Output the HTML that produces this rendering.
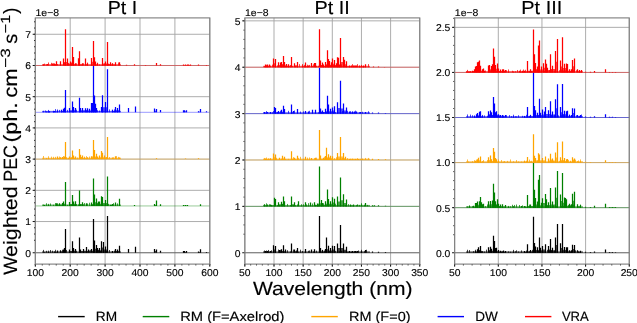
<!DOCTYPE html><html><head><meta charset="utf-8"><style>html,body{margin:0;padding:0;background:#fff;}svg{display:block;will-change:transform;}text{text-rendering:geometricPrecision;font-family:"Liberation Sans",sans-serif;fill:#000;stroke:#000;stroke-width:0.15px;}</style></head><body>
<svg width="637" height="323" viewBox="0 0 637 323">
<rect width="637" height="323" fill="#fff"/>
<path d="M35.30 17.90V264.10M70.20 17.90V264.10M105.10 17.90V264.10M140.00 17.90V264.10M174.90 17.90V264.10M209.80 17.90V264.10M35.30 252.75H209.80M35.30 221.54H209.80M35.30 190.33H209.80M35.30 159.12H209.80M35.30 127.91H209.80M35.30 96.70H209.80M35.30 65.49H209.80M35.30 34.28H209.80" stroke="#a4a4a4" stroke-width="0.9" fill="none"/>
<path d="M35.30 252.75H209.80" stroke="#000000" stroke-width="0.8" stroke-opacity="0.5" fill="none"/>
<path d="M44.50 252.75V252.20M48.50 252.75V251.90M54.50 252.75V251.60M57.50 252.75V250.40M60.50 252.75V250.40M63.50 252.75V249.40M64.50 252.75V247.90M65.50 252.75V229.00M69.50 252.75V249.40M72.50 252.75V241.20M73.50 252.75V247.90M75.50 252.75V248.90M79.50 252.75V237.50M80.50 252.75V249.40M83.50 252.75V248.90M86.50 252.75V247.10M88.50 252.75V249.40M91.50 252.75V248.90M93.50 252.75V218.90M94.50 252.75V240.50M96.50 252.75V244.90M97.50 252.75V247.90M99.50 252.75V247.90M101.50 252.75V241.20M103.50 252.75V242.00M105.50 252.75V246.40M107.50 252.75V215.90M112.50 252.75V250.90M115.50 252.75V248.90M117.50 252.75V249.40M119.50 252.75V245.70M128.50 252.75V248.90M135.50 252.75V246.80M154.50 252.75V249.00M156.50 252.75V249.50M160.50 252.75V250.70M183.50 252.75V251.00M184.50 252.75V251.00M186.50 252.75V251.00M198.50 252.75V251.50M200.50 252.75V249.30M206.50 252.75V252.00" stroke="#000000" stroke-width="1.25" fill="none"/>
<rect x="42.00" y="251.35" width="79.00" height="1.40" fill="#000000" fill-opacity="0.6"/>
<path d="M43.50 252.75V249.89M46.50 252.75V250.82M48.50 252.75V250.63M50.50 252.75V250.03M52.50 252.75V250.70M55.50 252.75V249.75M57.50 252.75V251.13M60.50 252.75V250.39M62.50 252.75V249.75M66.50 252.75V249.97M69.50 252.75V251.07M72.50 252.75V249.77M75.50 252.75V250.71M76.50 252.75V250.79M79.50 252.75V249.74M83.50 252.75V250.70M86.50 252.75V251.18M89.50 252.75V250.54M90.50 252.75V250.17M93.50 252.75V249.94M96.50 252.75V251.75M98.50 252.75V249.84M100.50 252.75V251.03M103.50 252.75V251.33M106.50 252.75V251.23M109.50 252.75V249.98M112.50 252.75V251.57M114.50 252.75V250.63M117.50 252.75V251.51" stroke="#000000" stroke-width="1" stroke-opacity="0.75" fill="none"/>
<path d="M54.90 252.75L54.90 252.18L57.10 252.18L57.10 252.75ZM60.80 252.75L60.80 251.57L63.00 251.57L63.00 252.75ZM63.00 252.75L63.00 251.07L64.50 251.07L64.50 252.75ZM64.50 252.75L64.50 250.32L65.70 250.32L65.70 252.75ZM69.70 252.75L69.70 251.07L72.40 251.07L72.40 252.75ZM72.40 252.75L72.40 250.32L73.90 250.32L73.90 252.75ZM73.90 252.75L73.90 250.82L75.70 250.82L75.70 252.75ZM79.70 252.75L79.70 251.07L80.40 251.07L80.40 252.75ZM80.40 252.75L80.40 251.07L83.10 251.07L83.10 252.75ZM83.10 252.75L83.10 250.82L86.10 250.82L86.10 252.75ZM86.10 252.75L86.10 251.07L88.30 251.07L88.30 252.75ZM91.90 252.75L91.90 250.82L93.45 250.82L93.45 252.75ZM93.45 252.75L93.45 246.62L94.90 246.62L94.90 252.75ZM94.90 252.75L94.90 248.82L96.00 248.82L96.00 252.75ZM96.00 252.75L96.00 250.32L97.90 250.32L97.90 252.75ZM97.90 252.75L97.90 250.32L99.20 250.32L99.20 252.75ZM99.20 252.75L99.20 250.32L101.60 250.32L101.60 252.75ZM101.60 252.75L101.60 247.38L103.10 247.38L103.10 252.75ZM103.10 252.75L103.10 249.57L105.60 249.57L105.60 252.75ZM105.60 252.75L105.60 249.57L107.50 249.57L107.50 252.75ZM115.60 252.75L115.60 251.07L117.50 251.07L117.50 252.75ZM117.50 252.75L117.50 251.07L119.40 251.07L119.40 252.75ZM154.60 252.75L154.60 251.12L156.30 251.12L156.30 252.75ZM183.00 252.75L183.00 251.88L184.50 251.88L184.50 252.75ZM184.50 252.75L184.50 251.88L186.50 251.88L186.50 252.75ZM198.10 252.75L198.10 252.12L200.60 252.12L200.60 252.75Z" fill="#000000" fill-opacity="0.70" stroke="none"/>
<path d="M35.30 205.94H209.80" stroke="#008000" stroke-width="0.8" stroke-opacity="0.5" fill="none"/>
<path d="M44.50 205.94V205.10M48.50 205.94V204.70M56.50 205.94V203.30M59.50 205.94V203.30M62.50 205.94V202.90M63.50 205.94V201.50M65.50 205.94V182.00M69.50 205.94V201.90M72.50 205.94V195.00M73.50 205.94V201.50M75.50 205.94V201.20M79.50 205.94V190.50M82.50 205.94V202.30M86.50 205.94V203.30M91.50 205.94V202.60M93.50 205.94V178.60M94.50 205.94V194.50M96.50 205.94V198.40M98.50 205.94V201.50M99.50 205.94V201.50M101.50 205.94V196.30M102.50 205.94V197.00M105.50 205.94V200.10M107.50 205.94V176.40M110.50 205.94V204.70M112.50 205.94V204.00M115.50 205.94V202.60M119.50 205.94V198.80M134.50 205.94V205.10M154.50 205.94V204.00M156.50 205.94V200.60M160.50 205.94V204.30M183.50 205.94V205.00M185.50 205.94V205.00M187.50 205.94V205.00M200.50 205.94V204.30" stroke="#008000" stroke-width="1.25" fill="none"/>
<rect x="42.00" y="204.53" width="79.00" height="1.40" fill="#008000" fill-opacity="0.6"/>
<path d="M43.50 205.94V204.64M46.50 205.94V203.25M48.50 205.94V203.85M50.50 205.94V203.50M53.50 205.94V204.73M55.50 205.94V203.10M57.50 205.94V203.26M59.50 205.94V203.96M62.50 205.94V204.43M65.50 205.94V202.95M67.50 205.94V204.88M69.50 205.94V202.87M71.50 205.94V204.46M74.50 205.94V204.87M76.50 205.94V203.97M78.50 205.94V204.42M80.50 205.94V204.45M83.50 205.94V204.30M84.50 205.94V203.09M87.50 205.94V203.52M89.50 205.94V202.75M92.50 205.94V204.67M94.50 205.94V203.35M97.50 205.94V202.87M99.50 205.94V203.11M102.50 205.94V204.27M105.50 205.94V202.99M108.50 205.94V203.82M111.50 205.94V204.86M113.50 205.94V203.18M115.50 205.94V204.55M117.50 205.94V203.39" stroke="#008000" stroke-width="1" stroke-opacity="0.75" fill="none"/>
<path d="M56.70 205.94L56.70 204.62L59.50 204.62L59.50 205.94ZM59.50 205.94L59.50 204.62L62.30 204.62L62.30 205.94ZM62.30 205.94L62.30 204.42L63.70 204.42L63.70 205.94ZM63.70 205.94L63.70 203.72L65.50 203.72L65.50 205.94ZM69.90 205.94L69.90 203.92L72.50 203.92L72.50 205.94ZM72.50 205.94L72.50 203.72L73.70 203.72L73.70 205.94ZM73.70 205.94L73.70 203.72L75.50 203.72L75.50 205.94ZM79.70 205.94L79.70 204.12L82.50 204.12L82.50 205.94ZM91.50 205.94L91.50 204.27L93.40 204.27L93.40 205.94ZM93.40 205.94L93.40 200.22L94.75 200.22L94.75 205.94ZM94.75 205.94L94.75 202.17L96.35 202.17L96.35 205.94ZM96.35 205.94L96.35 203.72L98.50 203.72L98.50 205.94ZM98.50 205.94L98.50 203.72L99.50 203.72L99.50 205.94ZM99.50 205.94L99.50 203.72L101.40 203.72L101.40 205.94ZM101.40 205.94L101.40 201.47L102.80 201.47L102.80 205.94ZM102.80 205.94L102.80 203.02L105.30 203.02L105.30 205.94ZM105.30 205.94L105.30 203.02L107.50 203.02L107.50 205.94ZM110.90 205.94L110.90 205.32L112.60 205.32L112.60 205.94ZM154.60 205.94L154.60 204.97L156.60 204.97L156.60 205.94ZM183.00 205.94L183.00 205.47L185.00 205.47L185.00 205.94ZM185.00 205.94L185.00 205.47L187.00 205.47L187.00 205.94Z" fill="#008000" fill-opacity="0.70" stroke="none"/>
<path d="M35.30 159.12H209.80" stroke="#ffa500" stroke-width="0.8" stroke-opacity="0.5" fill="none"/>
<path d="M48.50 159.12V158.30M53.50 159.12V158.30M57.50 159.12V156.50M60.50 159.12V157.30M62.50 159.12V156.90M64.50 159.12V156.50M65.50 159.12V142.00M69.50 159.12V156.50M72.50 159.12V150.40M73.50 159.12V155.50M75.50 159.12V156.50M79.50 159.12V149.00M80.50 159.12V154.80M82.50 159.12V155.50M84.50 159.12V157.30M87.50 159.12V157.30M91.50 159.12V156.20M93.50 159.12V139.90M94.50 159.12V150.00M96.50 159.12V153.80M97.50 159.12V156.50M99.50 159.12V155.50M101.50 159.12V150.90M102.50 159.12V152.70M104.50 159.12V155.50M107.50 159.12V137.00M112.50 159.12V157.60M115.50 159.12V156.20M119.50 159.12V157.60M156.50 159.12V158.20M185.50 159.12V158.50M198.50 159.12V158.30" stroke="#ffa500" stroke-width="1.25" fill="none"/>
<rect x="42.00" y="157.72" width="79.00" height="1.40" fill="#ffa500" fill-opacity="0.6"/>
<path d="M43.50 159.12V156.02M46.50 159.12V158.00M48.50 159.12V156.28M51.50 159.12V156.65M53.50 159.12V156.79M55.50 159.12V156.84M57.50 159.12V157.17M59.50 159.12V156.53M63.50 159.12V156.03M66.50 159.12V157.14M68.50 159.12V158.04M69.50 159.12V157.10M71.50 159.12V157.28M75.50 159.12V156.96M77.50 159.12V157.60M79.50 159.12V157.40M81.50 159.12V157.00M84.50 159.12V156.64M86.50 159.12V156.15M89.50 159.12V156.50M92.50 159.12V156.44M95.50 159.12V157.34M99.50 159.12V156.00M101.50 159.12V156.46M104.50 159.12V157.10M106.50 159.12V157.04M109.50 159.12V157.02M113.50 159.12V157.34M116.50 159.12V156.14M118.50 159.12V156.87" stroke="#ffa500" stroke-width="1" stroke-opacity="0.75" fill="none"/>
<path d="M57.40 159.12L57.40 158.21L60.20 158.21L60.20 159.12ZM60.20 159.12L60.20 158.21L62.30 158.21L62.30 159.12ZM62.30 159.12L62.30 158.01L64.00 158.01L64.00 159.12ZM64.00 159.12L64.00 157.81L65.50 157.81L65.50 159.12ZM69.90 159.12L69.90 157.81L72.50 157.81L72.50 159.12ZM72.50 159.12L72.50 157.31L73.40 157.31L73.40 159.12ZM73.40 159.12L73.40 157.81L75.50 157.81L75.50 159.12ZM79.70 159.12L79.70 156.96L80.40 156.96L80.40 159.12ZM80.40 159.12L80.40 157.31L82.50 157.31L82.50 159.12ZM82.50 159.12L82.50 158.21L84.60 158.21L84.60 159.12ZM84.60 159.12L84.60 158.21L87.40 158.21L87.40 159.12ZM91.30 159.12L91.30 157.66L93.40 157.66L93.40 159.12ZM93.40 159.12L93.40 154.56L94.80 154.56L94.80 159.12ZM94.80 159.12L94.80 156.46L96.40 156.46L96.40 159.12ZM96.40 159.12L96.40 157.81L97.80 157.81L97.80 159.12ZM97.80 159.12L97.80 157.81L99.50 157.81L99.50 159.12ZM99.50 159.12L99.50 157.31L101.40 157.31L101.40 159.12ZM101.40 159.12L101.40 155.91L102.80 155.91L102.80 159.12ZM102.80 159.12L102.80 157.31L104.60 157.31L104.60 159.12ZM104.60 159.12L104.60 157.31L107.50 157.31L107.50 159.12Z" fill="#ffa500" fill-opacity="0.70" stroke="none"/>
<path d="M35.30 112.31H209.80" stroke="#0000ff" stroke-width="0.8" stroke-opacity="0.5" fill="none"/>
<path d="M46.50 112.31V111.40M48.50 112.31V111.40M49.50 112.31V111.40M53.50 112.31V111.00M54.50 112.31V111.00M57.50 112.31V110.60M61.50 112.31V109.70M63.50 112.31V108.80M64.50 112.31V107.70M65.50 112.31V90.10M69.50 112.31V108.00M72.50 112.31V101.50M73.50 112.31V107.10M75.50 112.31V108.00M79.50 112.31V97.80M80.50 112.31V108.00M82.50 112.31V108.00M85.50 112.31V108.30M87.50 112.31V108.30M89.50 112.31V108.80M91.50 112.31V102.90M92.50 112.31V102.90M93.50 112.31V65.40M94.50 112.31V95.50M95.50 112.31V103.70M96.50 112.31V108.00M101.50 112.31V107.10M102.50 112.31V95.20M105.50 112.31V102.00M107.50 112.31V69.20M112.50 112.31V109.70M115.50 112.31V107.10M117.50 112.31V108.00M119.50 112.31V104.60M128.50 112.31V108.00M135.50 112.31V106.60M154.50 112.31V108.40M156.50 112.31V109.00M160.50 112.31V110.00M183.50 112.31V110.30M184.50 112.31V110.30M186.50 112.31V110.30M198.50 112.31V111.30M200.50 112.31V109.00M206.50 112.31V111.30" stroke="#0000ff" stroke-width="1.25" fill="none"/>
<rect x="42.00" y="110.91" width="79.00" height="1.40" fill="#0000ff" fill-opacity="0.6"/>
<path d="M43.50 112.31V110.78M45.50 112.31V110.49M48.50 112.31V109.93M49.50 112.31V111.28M53.50 112.31V110.73M55.50 112.31V109.11M57.50 112.31V109.46M59.50 112.31V109.90M61.50 112.31V109.91M65.50 112.31V110.15M67.50 112.31V109.83M69.50 112.31V109.64M72.50 112.31V110.64M73.50 112.31V109.40M76.50 112.31V109.72M79.50 112.31V109.73M82.50 112.31V110.44M86.50 112.31V110.33M89.50 112.31V109.37M91.50 112.31V111.01M93.50 112.31V109.18M95.50 112.31V109.93M97.50 112.31V110.19M99.50 112.31V110.53M102.50 112.31V110.02M105.50 112.31V109.80M109.50 112.31V109.42M112.50 112.31V109.83M114.50 112.31V109.41M117.50 112.31V109.31" stroke="#0000ff" stroke-width="1" stroke-opacity="0.75" fill="none"/>
<path d="M46.00 112.31L46.00 111.85L48.00 111.85L48.00 112.31ZM48.00 112.31L48.00 111.85L49.60 111.85L49.60 112.31ZM53.00 112.31L53.00 111.65L54.70 111.65L54.70 112.31ZM54.70 112.31L54.70 111.65L57.30 111.65L57.30 112.31ZM61.60 112.31L61.60 111.00L63.30 111.00L63.30 112.31ZM63.30 112.31L63.30 110.55L64.60 110.55L64.60 112.31ZM64.60 112.31L64.60 110.00L65.80 110.00L65.80 112.31ZM69.70 112.31L69.70 110.15L72.30 110.15L72.30 112.31ZM72.30 112.31L72.30 109.70L73.80 109.70L73.80 112.31ZM73.80 112.31L73.80 110.15L75.50 110.15L75.50 112.31ZM79.60 112.31L79.60 110.15L80.60 110.15L80.60 112.31ZM80.60 112.31L80.60 110.15L82.80 110.15L82.80 112.31ZM82.80 112.31L82.80 110.30L85.40 110.30L85.40 112.31ZM85.40 112.31L85.40 110.30L87.10 110.30L87.10 112.31ZM87.10 112.31L87.10 110.55L89.40 110.55L89.40 112.31ZM89.40 112.31L89.40 110.55L91.90 110.55L91.90 112.31ZM91.90 112.31L91.90 107.60L92.30 107.60L92.30 112.31ZM92.30 112.31L92.30 107.60L93.45 107.60L93.45 112.31ZM93.45 112.31L93.45 103.90L94.80 103.90L94.80 112.31ZM94.80 112.31L94.80 108.00L95.70 108.00L95.70 112.31ZM95.70 112.31L95.70 110.15L96.90 110.15L96.90 112.31ZM101.60 112.31L101.60 109.70L102.70 109.70L102.70 112.31ZM102.70 112.31L102.70 107.15L105.00 107.15L105.00 112.31ZM105.00 112.31L105.00 107.15L107.30 107.15L107.30 112.31ZM112.70 112.31L112.70 111.00L115.30 111.00L115.30 112.31ZM115.30 112.31L115.30 110.15L117.80 110.15L117.80 112.31ZM117.80 112.31L117.80 110.15L119.50 110.15L119.50 112.31ZM154.60 112.31L154.60 110.65L156.30 110.65L156.30 112.31ZM183.00 112.31L183.00 111.30L184.50 111.30L184.50 112.31ZM184.50 112.31L184.50 111.30L186.50 111.30L186.50 112.31ZM198.10 112.31L198.10 111.80L200.60 111.80L200.60 112.31Z" fill="#0000ff" fill-opacity="0.70" stroke="none"/>
<path d="M35.30 65.49H209.80" stroke="#ff0000" stroke-width="0.8" stroke-opacity="0.5" fill="none"/>
<path d="M43.50 65.49V65.00M47.50 65.49V64.10M52.50 65.49V63.60M54.50 65.49V63.60M56.50 65.49V61.30M60.50 65.49V61.30M63.50 65.49V58.40M65.50 65.49V58.00M65.50 65.49V29.20M67.50 65.49V58.40M70.50 65.49V61.60M72.50 65.49V47.00M73.50 65.49V57.00M75.50 65.49V63.20M78.50 65.49V58.20M79.50 65.49V51.20M82.50 65.49V63.20M85.50 65.49V58.40M87.50 65.49V63.20M91.50 65.49V58.10M93.50 65.49V41.00M94.50 65.49V57.30M95.50 65.49V61.50M97.50 65.49V63.30M102.50 65.49V57.90M105.50 65.49V61.50M107.50 65.49V42.00M110.50 65.49V62.30M112.50 65.49V63.30M115.50 65.49V62.30M119.50 65.49V62.30M126.50 65.49V64.70M134.50 65.49V64.30M145.50 65.49V65.00M156.50 65.49V63.10M160.50 65.49V64.30M183.50 65.49V64.50M185.50 65.49V64.50M187.50 65.49V64.50M188.50 65.49V64.50M190.50 65.49V64.60M198.50 65.49V64.60M206.50 65.49V65.00" stroke="#ff0000" stroke-width="1.25" fill="none"/>
<rect x="42.00" y="64.09" width="79.00" height="1.40" fill="#ff0000" fill-opacity="0.6"/>
<path d="M43.50 65.49V63.97M44.50 65.49V63.62M46.50 65.49V64.34M48.50 65.49V62.47M51.50 65.49V62.81M53.50 65.49V63.31M55.50 65.49V64.11M57.50 65.49V64.02M60.50 65.49V62.67M64.50 65.49V62.73M65.50 65.49V63.81M68.50 65.49V62.88M71.50 65.49V62.55M73.50 65.49V63.16M76.50 65.49V63.38M78.50 65.49V63.45M79.50 65.49V62.43M83.50 65.49V63.29M85.50 65.49V62.49M87.50 65.49V62.55M91.50 65.49V63.37M93.50 65.49V63.17M95.50 65.49V64.14M97.50 65.49V62.70M99.50 65.49V64.39M102.50 65.49V63.87M104.50 65.49V63.45M107.50 65.49V62.30M108.50 65.49V63.58M110.50 65.49V63.10M112.50 65.49V63.71M115.50 65.49V63.78M118.50 65.49V62.50" stroke="#ff0000" stroke-width="1" stroke-opacity="0.75" fill="none"/>
<path d="M52.70 65.49L52.70 64.55L54.80 64.55L54.80 65.49ZM54.80 65.49L54.80 64.55L56.20 64.55L56.20 65.49ZM63.80 65.49L63.80 61.95L65.00 61.95L65.00 65.49ZM65.00 65.49L65.00 61.75L65.50 61.75L65.50 65.49ZM65.50 65.49L65.50 61.95L67.00 61.95L67.00 65.49ZM67.00 65.49L67.00 63.55L70.10 63.55L70.10 65.49ZM70.10 65.49L70.10 63.55L72.50 63.55L72.50 65.49ZM72.50 65.49L72.50 61.25L73.60 61.25L73.60 65.49ZM73.60 65.49L73.60 64.34L75.70 64.34L75.70 65.49ZM78.90 65.49L78.90 61.85L79.60 61.85L79.60 65.49ZM79.60 65.49L79.60 64.34L82.70 64.34L82.70 65.49ZM85.90 65.49L85.90 64.34L87.80 64.34L87.80 65.49ZM91.20 65.49L91.20 61.80L93.40 61.80L93.40 65.49ZM93.40 65.49L93.40 61.40L94.90 61.40L94.90 65.49ZM94.90 65.49L94.90 63.50L95.80 63.50L95.80 65.49ZM95.80 65.49L95.80 64.40L97.00 64.40L97.00 65.49ZM102.80 65.49L102.80 63.50L105.30 63.50L105.30 65.49ZM105.30 65.49L105.30 63.50L107.50 63.50L107.50 65.49ZM107.50 65.49L107.50 63.90L110.60 63.90L110.60 65.49ZM110.60 65.49L110.60 64.40L112.70 64.40L112.70 65.49ZM112.70 65.49L112.70 64.40L115.80 64.40L115.80 65.49ZM183.00 65.49L183.00 65.00L185.00 65.00L185.00 65.49ZM185.00 65.49L185.00 65.00L187.00 65.00L187.00 65.49ZM187.00 65.49L187.00 65.00L188.70 65.00L188.70 65.49ZM188.70 65.49L188.70 65.05L190.60 65.05L190.60 65.49Z" fill="#ff0000" fill-opacity="0.70" stroke="none"/>
<path d="M35.30 264.10v2.6M70.20 264.10v2.6M105.10 264.10v2.6M140.00 264.10v2.6M174.90 264.10v2.6M209.80 264.10v2.6M35.30 264.10v1.3M42.28 264.10v1.3M49.26 264.10v1.3M56.24 264.10v1.3M63.22 264.10v1.3M70.20 264.10v1.3M77.18 264.10v1.3M84.16 264.10v1.3M91.14 264.10v1.3M98.12 264.10v1.3M105.10 264.10v1.3M112.08 264.10v1.3M119.06 264.10v1.3M126.04 264.10v1.3M133.02 264.10v1.3M140.00 264.10v1.3M146.98 264.10v1.3M153.96 264.10v1.3M160.94 264.10v1.3M167.92 264.10v1.3M174.90 264.10v1.3M181.88 264.10v1.3M188.86 264.10v1.3M195.84 264.10v1.3M202.82 264.10v1.3M209.80 264.10v1.3M35.30 240.27h-1.3M35.30 234.02h-1.3M35.30 227.78h-1.3M35.30 221.54h-1.3M35.30 215.30h-1.3M35.30 209.06h-1.3M35.30 202.81h-1.3M35.30 196.57h-1.3M35.30 190.33h-1.3M35.30 184.09h-1.3M35.30 177.85h-1.3M35.30 171.60h-1.3M35.30 165.36h-1.3M35.30 159.12h-1.3M35.30 152.88h-1.3M35.30 146.64h-1.3M35.30 140.39h-1.3M35.30 134.15h-1.3M35.30 127.91h-1.3M35.30 121.67h-1.3M35.30 115.43h-1.3M35.30 109.18h-1.3M35.30 102.94h-1.3M35.30 96.70h-1.3M35.30 90.46h-1.3M35.30 84.22h-1.3M35.30 77.97h-1.3M35.30 71.73h-1.3M35.30 65.49h-1.3M35.30 59.25h-1.3M35.30 53.01h-1.3M35.30 46.76h-1.3M35.30 40.52h-1.3M35.30 34.28h-1.3M35.30 28.04h-1.3M35.30 21.80h-1.3M35.30 252.75h-2.6M35.30 221.54h-2.6M35.30 190.33h-2.6M35.30 159.12h-2.6M35.30 127.91h-2.6M35.30 96.70h-2.6M35.30 65.49h-2.6M35.30 34.28h-2.6" stroke="#111" stroke-width="1.0" fill="none"/>
<rect x="35.30" y="17.90" width="174.50" height="246.20" fill="none" stroke="#7d7d7d" stroke-width="1.1"/>
<text x="35.30" y="276.4" font-size="9.90" style="stroke-width:0.12px" text-anchor="middle" textLength="17.25" lengthAdjust="spacingAndGlyphs">100</text>
<text x="70.20" y="276.4" font-size="9.90" style="stroke-width:0.12px" text-anchor="middle" textLength="17.25" lengthAdjust="spacingAndGlyphs">200</text>
<text x="105.10" y="276.4" font-size="9.90" style="stroke-width:0.12px" text-anchor="middle" textLength="17.25" lengthAdjust="spacingAndGlyphs">300</text>
<text x="140.00" y="276.4" font-size="9.90" style="stroke-width:0.12px" text-anchor="middle" textLength="17.25" lengthAdjust="spacingAndGlyphs">400</text>
<text x="174.90" y="276.4" font-size="9.90" style="stroke-width:0.12px" text-anchor="middle" textLength="17.25" lengthAdjust="spacingAndGlyphs">500</text>
<text x="209.80" y="276.4" font-size="9.90" style="stroke-width:0.12px" text-anchor="middle" textLength="17.25" lengthAdjust="spacingAndGlyphs">600</text>
<text x="31.00" y="256.65" font-size="9.90" style="stroke-width:0.12px" text-anchor="end" textLength="5.75" lengthAdjust="spacingAndGlyphs">0</text>
<text x="31.00" y="225.44" font-size="9.90" style="stroke-width:0.12px" text-anchor="end" textLength="5.75" lengthAdjust="spacingAndGlyphs">1</text>
<text x="31.00" y="194.23" font-size="9.90" style="stroke-width:0.12px" text-anchor="end" textLength="5.75" lengthAdjust="spacingAndGlyphs">2</text>
<text x="31.00" y="163.02" font-size="9.90" style="stroke-width:0.12px" text-anchor="end" textLength="5.75" lengthAdjust="spacingAndGlyphs">3</text>
<text x="31.00" y="131.81" font-size="9.90" style="stroke-width:0.12px" text-anchor="end" textLength="5.75" lengthAdjust="spacingAndGlyphs">4</text>
<text x="31.00" y="100.60" font-size="9.90" style="stroke-width:0.12px" text-anchor="end" textLength="5.75" lengthAdjust="spacingAndGlyphs">5</text>
<text x="31.00" y="69.39" font-size="9.90" style="stroke-width:0.12px" text-anchor="end" textLength="5.75" lengthAdjust="spacingAndGlyphs">6</text>
<text x="31.00" y="38.18" font-size="9.90" style="stroke-width:0.12px" text-anchor="end" textLength="5.75" lengthAdjust="spacingAndGlyphs">7</text>
<text x="35.50" y="15.5" font-size="9.90" style="stroke-width:0.12px" textLength="23.6" lengthAdjust="spacingAndGlyphs">1e−8</text>
<text x="122.50" y="13.7" font-size="18.9" text-anchor="middle" textLength="29.40" lengthAdjust="spacingAndGlyphs">Pt I</text>
<path d="M244.85 17.90V264.10M274.00 17.90V264.10M303.15 17.90V264.10M332.30 17.90V264.10M361.45 17.90V264.10M390.60 17.90V264.10M419.75 17.90V264.10M244.85 252.75H419.75M244.85 206.37H419.75M244.85 159.99H419.75M244.85 113.61H419.75M244.85 67.23H419.75M244.85 20.85H419.75" stroke="#a4a4a4" stroke-width="0.9" fill="none"/>
<path d="M244.85 252.75H419.75" stroke="#000000" stroke-width="0.8" stroke-opacity="0.5" fill="none"/>
<path d="M265.50 252.75V250.90M267.50 252.75V250.90M270.50 252.75V250.90M273.50 252.75V245.20M275.50 252.75V246.00M279.50 252.75V250.10M281.50 252.75V249.30M283.50 252.75V245.20M285.50 252.75V249.60M291.50 252.75V243.50M294.50 252.75V249.60M297.50 252.75V248.00M305.50 252.75V248.90M311.50 252.75V249.60M314.50 252.75V249.30M319.50 252.75V216.10M320.50 252.75V248.00M322.50 252.75V250.10M325.50 252.75V248.90M326.50 252.75V237.50M328.50 252.75V245.70M330.50 252.75V248.00M332.50 252.75V245.70M334.50 252.75V246.00M337.50 252.75V243.50M340.50 252.75V225.00M343.50 252.75V243.50M346.50 252.75V246.80M349.50 252.75V250.90M352.50 252.75V250.90M355.50 252.75V250.90M357.50 252.75V250.90M361.50 252.75V251.20M365.50 252.75V250.10M372.50 252.75V251.55M378.50 252.75V251.75M385.50 252.75V252.05" stroke="#000000" stroke-width="1.25" fill="none"/>
<rect x="263.00" y="251.35" width="107.00" height="1.40" fill="#000000" fill-opacity="0.6"/>
<path d="M264.50 252.75V250.49M266.50 252.75V250.48M268.50 252.75V249.96M271.50 252.75V250.31M273.50 252.75V250.60M275.50 252.75V251.20M278.50 252.75V249.56M280.50 252.75V249.86M283.50 252.75V250.91M285.50 252.75V250.27M287.50 252.75V250.24M290.50 252.75V251.46M293.50 252.75V249.59M296.50 252.75V250.40M298.50 252.75V251.74M300.50 252.75V249.68M302.50 252.75V250.94M305.50 252.75V251.06M308.50 252.75V250.79M309.50 252.75V250.46M313.50 252.75V251.41M314.50 252.75V250.84M316.50 252.75V250.66M319.50 252.75V250.30M322.50 252.75V249.87M324.50 252.75V250.50M326.50 252.75V250.43M328.50 252.75V250.04M329.50 252.75V251.38M332.50 252.75V249.67M335.50 252.75V250.84M337.50 252.75V251.15M339.50 252.75V251.36M341.50 252.75V250.75M343.50 252.75V250.32M346.50 252.75V250.04M349.50 252.75V250.99M351.50 252.75V251.74M354.50 252.75V251.02M356.50 252.75V251.57M358.50 252.75V250.47M361.50 252.75V249.84M364.50 252.75V251.22M366.50 252.75V249.75" stroke="#000000" stroke-width="1" stroke-opacity="0.75" fill="none"/>
<path d="M265.30 252.75L265.30 251.82L267.70 251.82L267.70 252.75ZM267.70 252.75L267.70 251.82L270.20 251.82L270.20 252.75ZM273.80 252.75L273.80 249.38L275.10 249.38L275.10 252.75ZM279.20 252.75L279.20 251.43L281.70 251.43L281.70 252.75ZM281.70 252.75L281.70 251.03L283.30 251.03L283.30 252.75ZM283.30 252.75L283.30 251.18L285.00 251.18L285.00 252.75ZM294.80 252.75L294.80 251.18L297.70 251.18L297.70 252.75ZM319.25 252.75L319.25 250.38L320.80 250.38L320.80 252.75ZM320.80 252.75L320.80 251.43L322.40 251.43L322.40 252.75ZM322.40 252.75L322.40 251.43L325.20 251.43L325.20 252.75ZM325.20 252.75L325.20 250.82L326.80 250.82L326.80 252.75ZM326.80 252.75L326.80 249.22L328.40 249.22L328.40 252.75ZM328.40 252.75L328.40 250.38L330.10 250.38L330.10 252.75ZM330.10 252.75L330.10 250.38L332.20 250.38L332.20 252.75ZM332.20 252.75L332.20 249.38L334.30 249.38L334.30 252.75ZM337.60 252.75L337.60 248.12L340.70 248.12L340.70 252.75ZM340.70 252.75L340.70 248.12L343.70 248.12L343.70 252.75ZM343.70 252.75L343.70 249.78L346.50 249.78L346.50 252.75ZM346.50 252.75L346.50 251.82L349.40 251.82L349.40 252.75ZM349.40 252.75L349.40 251.82L352.00 251.82L352.00 252.75ZM352.00 252.75L352.00 251.82L355.00 251.82L355.00 252.75ZM355.00 252.75L355.00 251.82L357.60 251.82L357.60 252.75Z" fill="#000000" fill-opacity="0.70" stroke="none"/>
<path d="M244.85 206.37H419.75" stroke="#008000" stroke-width="0.8" stroke-opacity="0.5" fill="none"/>
<path d="M264.50 206.37V204.40M267.50 206.37V204.40M270.50 206.37V204.40M274.50 206.37V197.70M275.50 206.37V199.10M278.50 206.37V202.30M281.50 206.37V201.70M283.50 206.37V196.40M284.50 206.37V201.20M291.50 206.37V196.40M294.50 206.37V202.30M298.50 206.37V201.20M305.50 206.37V202.30M310.50 206.37V202.60M314.50 206.37V202.30M317.50 206.37V203.50M319.50 206.37V166.50M321.50 206.37V200.00M322.50 206.37V203.00M325.50 206.37V201.20M327.50 206.37V189.40M328.50 206.37V199.10M330.50 206.37V201.20M332.50 206.37V197.30M334.50 206.37V198.70M337.50 206.37V196.40M340.50 206.37V177.60M343.50 206.37V194.20M346.50 206.37V199.40M350.50 206.37V204.40M353.50 206.37V204.40M357.50 206.37V204.40M361.50 206.37V204.40M365.50 206.37V203.00M374.50 206.37V205.30M372.50 206.37V205.17M378.50 206.37V205.37M385.50 206.37V205.67" stroke="#008000" stroke-width="1.25" fill="none"/>
<rect x="263.00" y="204.97" width="107.00" height="1.40" fill="#008000" fill-opacity="0.6"/>
<path d="M264.50 206.37V204.37M266.50 206.37V203.34M269.50 206.37V204.25M271.50 206.37V204.96M274.50 206.37V203.98M277.50 206.37V205.16M279.50 206.37V205.17M282.50 206.37V203.84M284.50 206.37V203.21M287.50 206.37V203.93M290.50 206.37V205.02M291.50 206.37V204.21M293.50 206.37V204.95M295.50 206.37V205.30M297.50 206.37V204.40M301.50 206.37V204.23M303.50 206.37V204.27M306.50 206.37V204.36M308.50 206.37V203.18M312.50 206.37V203.52M315.50 206.37V204.68M317.50 206.37V204.73M318.50 206.37V203.68M321.50 206.37V203.51M323.50 206.37V203.26M326.50 206.37V205.37M328.50 206.37V203.37M330.50 206.37V203.21M333.50 206.37V205.21M335.50 206.37V203.66M337.50 206.37V205.18M340.50 206.37V203.25M343.50 206.37V205.11M345.50 206.37V205.15M346.50 206.37V203.62M348.50 206.37V204.14M350.50 206.37V204.95M353.50 206.37V205.08M356.50 206.37V205.11M359.50 206.37V204.90M361.50 206.37V203.23M364.50 206.37V204.70M367.50 206.37V204.91" stroke="#008000" stroke-width="1" stroke-opacity="0.75" fill="none"/>
<path d="M264.60 206.37L264.60 205.38L267.50 205.38L267.50 206.37ZM270.80 206.37L270.80 205.38L274.00 205.38L274.00 206.37ZM274.00 206.37L274.00 202.74L275.20 202.74L275.20 206.37ZM278.80 206.37L278.80 204.34L281.00 204.34L281.00 206.37ZM281.00 206.37L281.00 204.03L283.20 204.03L283.20 206.37ZM283.20 206.37L283.20 203.78L284.90 203.78L284.90 206.37ZM291.50 206.37L291.50 204.34L294.60 204.34L294.60 206.37ZM314.90 206.37L314.90 204.94L317.60 204.94L317.60 206.37ZM317.60 206.37L317.60 204.94L319.20 204.94L319.20 206.37ZM319.20 206.37L319.20 203.19L321.10 203.19L321.10 206.37ZM321.10 206.37L321.10 204.69L322.90 204.69L322.90 206.37ZM322.90 206.37L322.90 204.69L325.90 204.69L325.90 206.37ZM325.90 206.37L325.90 203.78L327.00 203.78L327.00 206.37ZM327.00 206.37L327.00 202.74L328.80 202.74L328.80 206.37ZM328.80 206.37L328.80 203.78L330.50 203.78L330.50 206.37ZM330.50 206.37L330.50 203.78L332.60 203.78L332.60 206.37ZM332.60 206.37L332.60 202.53L334.40 202.53L334.40 206.37ZM337.90 206.37L337.90 201.38L340.90 201.38L340.90 206.37ZM340.90 206.37L340.90 200.28L343.70 200.28L343.70 206.37ZM343.70 206.37L343.70 202.88L346.70 202.88L346.70 206.37ZM350.30 206.37L350.30 205.38L353.50 205.38L353.50 206.37ZM372.70 206.37L372.70 205.84L374.10 205.84L374.10 206.37Z" fill="#008000" fill-opacity="0.70" stroke="none"/>
<path d="M244.85 159.99H419.75" stroke="#ffa500" stroke-width="0.8" stroke-opacity="0.5" fill="none"/>
<path d="M265.50 159.99V158.60M268.50 159.99V158.60M270.50 159.99V158.60M273.50 159.99V153.40M275.50 159.99V154.60M279.50 159.99V157.70M282.50 159.99V155.70M284.50 159.99V156.80M291.50 159.99V151.20M294.50 159.99V157.70M297.50 159.99V155.70M305.50 159.99V156.80M311.50 159.99V158.00M315.50 159.99V157.70M319.50 159.99V130.10M320.50 159.99V155.50M323.50 159.99V157.70M325.50 159.99V156.00M326.50 159.99V147.80M328.50 159.99V154.30M330.50 159.99V155.70M332.50 159.99V156.30M337.50 159.99V152.90M340.50 159.99V136.90M343.50 159.99V152.90M345.50 159.99V156.80M349.50 159.99V159.00M352.50 159.99V159.00M355.50 159.99V159.00M358.50 159.99V159.00M362.50 159.99V159.00M372.50 159.99V158.79M378.50 159.99V158.99M385.50 159.99V159.29" stroke="#ffa500" stroke-width="1.25" fill="none"/>
<rect x="263.00" y="158.59" width="107.00" height="1.40" fill="#ffa500" fill-opacity="0.6"/>
<path d="M264.50 159.99V157.95M266.50 159.99V157.52M268.50 159.99V158.97M270.50 159.99V158.39M273.50 159.99V157.47M276.50 159.99V157.76M279.50 159.99V158.67M281.50 159.99V158.63M285.50 159.99V158.86M288.50 159.99V158.83M291.50 159.99V158.25M293.50 159.99V157.14M295.50 159.99V158.86M298.50 159.99V157.87M300.50 159.99V156.82M303.50 159.99V158.74M305.50 159.99V158.69M307.50 159.99V157.62M309.50 159.99V157.46M311.50 159.99V158.61M314.50 159.99V158.11M316.50 159.99V157.68M319.50 159.99V158.14M320.50 159.99V157.39M324.50 159.99V156.84M327.50 159.99V158.21M329.50 159.99V157.47M332.50 159.99V158.74M334.50 159.99V158.19M336.50 159.99V157.21M339.50 159.99V158.93M342.50 159.99V158.04M344.50 159.99V158.50M347.50 159.99V158.14M350.50 159.99V158.76M352.50 159.99V158.60M355.50 159.99V158.91M357.50 159.99V158.23M360.50 159.99V158.88M362.50 159.99V158.53M365.50 159.99V157.94M368.50 159.99V157.93" stroke="#ffa500" stroke-width="1" stroke-opacity="0.75" fill="none"/>
<path d="M265.40 159.99L265.40 159.30L268.00 159.30L268.00 159.99ZM268.00 159.99L268.00 159.30L270.50 159.30L270.50 159.99ZM273.90 159.99L273.90 157.30L275.30 157.30L275.30 159.99ZM282.40 159.99L282.40 158.40L284.10 158.40L284.10 159.99ZM291.30 159.99L291.30 158.84L294.40 158.84L294.40 159.99ZM319.20 159.99L319.20 157.75L320.90 157.75L320.90 159.99ZM320.90 159.99L320.90 158.84L323.50 158.84L323.50 159.99ZM323.50 159.99L323.50 158.84L325.60 158.84L325.60 159.99ZM325.60 159.99L325.60 158.00L326.90 158.00L326.90 159.99ZM326.90 159.99L326.90 157.15L328.30 157.15L328.30 159.99ZM328.30 159.99L328.30 157.84L330.30 157.84L330.30 159.99ZM330.30 159.99L330.30 158.15L332.90 158.15L332.90 159.99ZM337.70 159.99L337.70 156.44L340.60 156.44L340.60 159.99ZM340.60 159.99L340.60 156.44L343.60 156.44L343.60 159.99ZM343.60 159.99L343.60 158.40L345.70 158.40L345.70 159.99ZM349.00 159.99L349.00 159.50L352.00 159.50L352.00 159.99ZM352.00 159.99L352.00 159.50L355.00 159.50L355.00 159.99ZM355.00 159.99L355.00 159.50L358.00 159.50L358.00 159.99Z" fill="#ffa500" fill-opacity="0.70" stroke="none"/>
<path d="M244.85 113.61H419.75" stroke="#0000ff" stroke-width="0.8" stroke-opacity="0.5" fill="none"/>
<path d="M264.50 113.61V111.90M267.50 113.61V111.90M270.50 113.61V111.90M274.50 113.61V107.00M275.50 113.61V107.90M278.50 113.61V110.90M281.50 113.61V109.70M283.50 113.61V105.70M284.50 113.61V109.10M291.50 113.61V104.50M293.50 113.61V110.90M297.50 113.61V109.10M305.50 113.61V110.90M308.50 113.61V111.40M312.50 113.61V109.70M315.50 113.61V109.70M319.50 113.61V68.00M320.50 113.61V108.40M322.50 113.61V110.50M325.50 113.61V108.80M327.50 113.61V95.80M328.50 113.61V104.50M330.50 113.61V108.80M332.50 113.61V107.40M334.50 113.61V106.20M337.50 113.61V102.20M340.50 113.61V80.70M343.50 113.61V103.60M346.50 113.61V107.40M349.50 113.61V111.40M352.50 113.61V111.40M354.50 113.61V111.40M356.50 113.61V111.40M360.50 113.61V111.90M365.50 113.61V111.90M372.50 113.61V112.41M378.50 113.61V112.61M385.50 113.61V112.91" stroke="#0000ff" stroke-width="1.25" fill="none"/>
<rect x="263.00" y="112.21" width="107.00" height="1.40" fill="#0000ff" fill-opacity="0.6"/>
<path d="M264.50 113.61V112.04M266.50 113.61V111.11M270.50 113.61V112.20M272.50 113.61V112.29M273.50 113.61V111.00M275.50 113.61V111.44M277.50 113.61V111.96M280.50 113.61V110.77M282.50 113.61V112.58M284.50 113.61V112.29M288.50 113.61V110.83M291.50 113.61V110.79M294.50 113.61V110.52M297.50 113.61V112.05M300.50 113.61V111.54M303.50 113.61V111.37M305.50 113.61V111.81M308.50 113.61V111.92M309.50 113.61V110.81M312.50 113.61V110.44M315.50 113.61V111.39M318.50 113.61V112.31M321.50 113.61V111.63M323.50 113.61V112.16M326.50 113.61V112.05M328.50 113.61V111.28M330.50 113.61V112.32M333.50 113.61V112.09M335.50 113.61V112.18M337.50 113.61V112.45M340.50 113.61V110.51M342.50 113.61V111.03M345.50 113.61V112.51M347.50 113.61V110.84M350.50 113.61V111.20M352.50 113.61V111.70M355.50 113.61V110.66M359.50 113.61V112.16M362.50 113.61V111.79M365.50 113.61V112.31M368.50 113.61V111.28" stroke="#0000ff" stroke-width="1" stroke-opacity="0.75" fill="none"/>
<path d="M264.60 113.61L264.60 112.75L267.00 112.75L267.00 113.61ZM274.10 113.61L274.10 110.75L275.50 110.75L275.50 113.61ZM275.50 113.61L275.50 112.25L278.50 112.25L278.50 113.61ZM278.50 113.61L278.50 112.25L281.00 112.25L281.00 113.61ZM281.00 113.61L281.00 111.66L283.10 111.66L283.10 113.61ZM283.10 113.61L283.10 111.35L284.50 111.35L284.50 113.61ZM291.10 113.61L291.10 112.25L293.20 112.25L293.20 113.61ZM319.25 113.61L319.25 111.00L320.70 111.00L320.70 113.61ZM320.70 113.61L320.70 112.05L322.80 112.05L322.80 113.61ZM322.80 113.61L322.80 112.05L325.70 112.05L325.70 113.61ZM325.70 113.61L325.70 111.20L327.10 111.20L327.10 113.61ZM327.10 113.61L327.10 109.05L328.50 109.05L328.50 113.61ZM328.50 113.61L328.50 111.20L330.60 111.20L330.60 113.61ZM330.60 113.61L330.60 111.20L332.30 111.20L332.30 113.61ZM332.30 113.61L332.30 110.50L334.10 110.50L334.10 113.61ZM337.50 113.61L337.50 107.91L340.60 107.91L340.60 113.61ZM340.60 113.61L340.60 108.60L343.60 108.60L343.60 113.61ZM343.60 113.61L343.60 110.50L346.20 110.50L346.20 113.61ZM349.70 113.61L349.70 112.50L352.00 112.50L352.00 113.61ZM352.00 113.61L352.00 112.50L354.50 112.50L354.50 113.61ZM354.50 113.61L354.50 112.50L356.60 112.50L356.60 113.61Z" fill="#0000ff" fill-opacity="0.70" stroke="none"/>
<path d="M244.85 67.23H419.75" stroke="#ff0000" stroke-width="0.8" stroke-opacity="0.5" fill="none"/>
<path d="M265.50 67.23V64.50M267.50 67.23V64.50M269.50 67.23V64.50M273.50 67.23V58.40M275.50 67.23V59.10M278.50 67.23V62.30M280.50 67.23V62.60M281.50 67.23V61.90M283.50 67.23V55.90M284.50 67.23V61.90M286.50 67.23V64.00M288.50 67.23V64.20M291.50 67.23V57.00M294.50 67.23V63.30M297.50 67.23V61.90M302.50 67.23V65.40M305.50 67.23V62.60M308.50 67.23V65.40M311.50 67.23V62.90M314.50 67.23V62.90M315.50 67.23V62.90M319.50 67.23V29.20M320.50 67.23V60.50M322.50 67.23V62.60M323.50 67.23V64.70M325.50 67.23V61.90M327.50 67.23V50.30M328.50 67.23V59.10M329.50 67.23V60.90M331.50 67.23V62.30M332.50 67.23V58.40M334.50 67.23V60.10M336.50 67.23V63.30M337.50 67.23V57.30M338.50 67.23V57.70M339.50 67.23V64.50M340.50 67.23V38.00M343.50 67.23V57.00M344.50 67.23V59.80M346.50 67.23V61.20M349.50 67.23V65.40M351.50 67.23V65.40M353.50 67.23V65.40M355.50 67.23V65.40M356.50 67.23V65.40M359.50 67.23V65.70M361.50 67.23V65.70M363.50 67.23V65.70M365.50 67.23V64.30M373.50 67.23V66.50M378.50 67.23V66.50M384.50 67.23V67.00" stroke="#ff0000" stroke-width="1.25" fill="none"/>
<rect x="263.00" y="65.83" width="107.00" height="1.40" fill="#ff0000" fill-opacity="0.6"/>
<path d="M264.50 67.23V65.99M266.50 67.23V64.80M270.50 67.23V65.63M272.50 67.23V64.62M275.50 67.23V65.56M277.50 67.23V65.36M281.50 67.23V65.97M282.50 67.23V64.25M285.50 67.23V65.66M288.50 67.23V64.84M290.50 67.23V65.02M292.50 67.23V65.87M295.50 67.23V65.96M297.50 67.23V66.05M299.50 67.23V64.08M302.50 67.23V64.05M304.50 67.23V64.89M307.50 67.23V64.72M309.50 67.23V64.93M312.50 67.23V65.83M313.50 67.23V64.31M316.50 67.23V65.80M318.50 67.23V65.75M321.50 67.23V65.13M323.50 67.23V64.43M325.50 67.23V65.61M326.50 67.23V64.60M328.50 67.23V65.07M330.50 67.23V65.17M333.50 67.23V65.05M335.50 67.23V65.16M337.50 67.23V64.92M339.50 67.23V65.19M341.50 67.23V64.33M345.50 67.23V66.08M346.50 67.23V64.68M349.50 67.23V66.19M352.50 67.23V64.15M354.50 67.23V65.47M357.50 67.23V64.16M359.50 67.23V65.56M361.50 67.23V64.85M363.50 67.23V65.67M365.50 67.23V66.15M368.50 67.23V64.07" stroke="#ff0000" stroke-width="1" stroke-opacity="0.75" fill="none"/>
<path d="M265.00 67.23L265.00 65.86L267.00 65.86L267.00 67.23ZM267.00 67.23L267.00 65.86L269.00 65.86L269.00 67.23ZM273.80 67.23L273.80 63.16L275.20 63.16L275.20 67.23ZM278.70 67.23L278.70 64.91L280.10 64.91L280.10 67.23ZM280.10 67.23L280.10 64.91L281.50 64.91L281.50 67.23ZM281.50 67.23L281.50 64.56L283.30 64.56L283.30 67.23ZM283.30 67.23L283.30 64.56L284.60 64.56L284.60 67.23ZM284.60 67.23L284.60 65.61L286.40 65.61L286.40 67.23ZM286.40 67.23L286.40 65.72L288.50 65.72L288.50 67.23ZM288.50 67.23L288.50 65.72L291.20 65.72L291.20 67.23ZM294.70 67.23L294.70 65.26L297.90 65.26L297.90 67.23ZM302.40 67.23L302.40 66.31L305.20 66.31L305.20 67.23ZM305.20 67.23L305.20 66.31L308.00 66.31L308.00 67.23ZM314.90 67.23L314.90 65.06L315.70 65.06L315.70 67.23ZM319.30 67.23L319.30 63.86L320.50 63.86L320.50 67.23ZM320.50 67.23L320.50 64.91L322.00 64.91L322.00 67.23ZM322.00 67.23L322.00 65.97L323.60 65.97L323.60 67.23ZM323.60 67.23L323.60 65.97L325.90 65.97L325.90 67.23ZM325.90 67.23L325.90 64.56L327.10 64.56L327.10 67.23ZM327.10 67.23L327.10 63.16L328.20 63.16L328.20 67.23ZM328.20 67.23L328.20 64.06L329.60 64.06L329.60 67.23ZM329.60 67.23L329.60 64.76L331.00 64.76L331.00 67.23ZM331.00 67.23L331.00 64.76L332.00 64.76L332.00 67.23ZM332.00 67.23L332.00 63.66L334.50 63.66L334.50 67.23ZM334.50 67.23L334.50 65.26L336.60 65.26L336.60 67.23ZM336.60 67.23L336.60 65.26L337.60 65.26L337.60 67.23ZM337.60 67.23L337.60 62.46L338.40 62.46L338.40 67.23ZM338.40 67.23L338.40 65.86L339.40 65.86L339.40 67.23ZM339.40 67.23L339.40 65.86L340.50 65.86L340.50 67.23ZM340.50 67.23L340.50 62.11L343.60 62.11L343.60 67.23ZM343.60 67.23L343.60 63.51L344.50 63.51L344.50 67.23ZM344.50 67.23L344.50 64.22L346.80 64.22L346.80 67.23ZM346.80 67.23L346.80 66.31L349.00 66.31L349.00 67.23ZM349.00 67.23L349.00 66.31L351.00 66.31L351.00 67.23ZM351.00 67.23L351.00 66.31L353.00 66.31L353.00 67.23ZM353.00 67.23L353.00 66.31L355.00 66.31L355.00 67.23ZM355.00 67.23L355.00 66.31L356.80 66.31L356.80 67.23ZM356.80 67.23L356.80 66.47L359.60 66.47L359.60 67.23ZM359.60 67.23L359.60 66.47L361.50 66.47L361.50 67.23ZM361.50 67.23L361.50 66.47L363.70 66.47L363.70 67.23ZM363.70 67.23L363.70 66.47L365.50 66.47L365.50 67.23Z" fill="#ff0000" fill-opacity="0.70" stroke="none"/>
<path d="M244.85 264.10v2.6M274.00 264.10v2.6M303.15 264.10v2.6M332.30 264.10v2.6M361.45 264.10v2.6M390.60 264.10v2.6M419.75 264.10v2.6M244.85 264.10v1.3M250.68 264.10v1.3M256.51 264.10v1.3M262.34 264.10v1.3M268.17 264.10v1.3M274.00 264.10v1.3M279.83 264.10v1.3M285.66 264.10v1.3M291.49 264.10v1.3M297.32 264.10v1.3M303.15 264.10v1.3M308.98 264.10v1.3M314.81 264.10v1.3M320.64 264.10v1.3M326.47 264.10v1.3M332.30 264.10v1.3M338.13 264.10v1.3M343.96 264.10v1.3M349.79 264.10v1.3M355.62 264.10v1.3M361.45 264.10v1.3M367.28 264.10v1.3M373.11 264.10v1.3M378.94 264.10v1.3M384.77 264.10v1.3M390.60 264.10v1.3M396.43 264.10v1.3M402.26 264.10v1.3M408.09 264.10v1.3M413.92 264.10v1.3M419.75 264.10v1.3M244.85 234.20h-1.3M244.85 224.92h-1.3M244.85 215.65h-1.3M244.85 206.37h-1.3M244.85 197.09h-1.3M244.85 187.82h-1.3M244.85 178.54h-1.3M244.85 169.27h-1.3M244.85 159.99h-1.3M244.85 150.71h-1.3M244.85 141.44h-1.3M244.85 132.16h-1.3M244.85 122.89h-1.3M244.85 113.61h-1.3M244.85 104.33h-1.3M244.85 95.06h-1.3M244.85 85.78h-1.3M244.85 76.51h-1.3M244.85 67.23h-1.3M244.85 57.95h-1.3M244.85 48.68h-1.3M244.85 39.40h-1.3M244.85 30.13h-1.3M244.85 20.85h-1.3M244.85 252.75h-2.6M244.85 206.37h-2.6M244.85 159.99h-2.6M244.85 113.61h-2.6M244.85 67.23h-2.6M244.85 20.85h-2.6" stroke="#111" stroke-width="1.0" fill="none"/>
<rect x="244.85" y="17.90" width="174.90" height="246.20" fill="none" stroke="#7d7d7d" stroke-width="1.1"/>
<text x="244.85" y="276.4" font-size="9.90" style="stroke-width:0.12px" text-anchor="middle" textLength="11.50" lengthAdjust="spacingAndGlyphs">50</text>
<text x="274.00" y="276.4" font-size="9.90" style="stroke-width:0.12px" text-anchor="middle" textLength="17.25" lengthAdjust="spacingAndGlyphs">100</text>
<text x="303.15" y="276.4" font-size="9.90" style="stroke-width:0.12px" text-anchor="middle" textLength="17.25" lengthAdjust="spacingAndGlyphs">150</text>
<text x="332.30" y="276.4" font-size="9.90" style="stroke-width:0.12px" text-anchor="middle" textLength="17.25" lengthAdjust="spacingAndGlyphs">200</text>
<text x="361.45" y="276.4" font-size="9.90" style="stroke-width:0.12px" text-anchor="middle" textLength="17.25" lengthAdjust="spacingAndGlyphs">250</text>
<text x="390.60" y="276.4" font-size="9.90" style="stroke-width:0.12px" text-anchor="middle" textLength="17.25" lengthAdjust="spacingAndGlyphs">300</text>
<text x="419.75" y="276.4" font-size="9.90" style="stroke-width:0.12px" text-anchor="middle" textLength="17.25" lengthAdjust="spacingAndGlyphs">350</text>
<text x="240.55" y="256.65" font-size="9.90" style="stroke-width:0.12px" text-anchor="end" textLength="5.75" lengthAdjust="spacingAndGlyphs">0</text>
<text x="240.55" y="210.27" font-size="9.90" style="stroke-width:0.12px" text-anchor="end" textLength="5.75" lengthAdjust="spacingAndGlyphs">1</text>
<text x="240.55" y="163.89" font-size="9.90" style="stroke-width:0.12px" text-anchor="end" textLength="5.75" lengthAdjust="spacingAndGlyphs">2</text>
<text x="240.55" y="117.51" font-size="9.90" style="stroke-width:0.12px" text-anchor="end" textLength="5.75" lengthAdjust="spacingAndGlyphs">3</text>
<text x="240.55" y="71.13" font-size="9.90" style="stroke-width:0.12px" text-anchor="end" textLength="5.75" lengthAdjust="spacingAndGlyphs">4</text>
<text x="240.55" y="24.75" font-size="9.90" style="stroke-width:0.12px" text-anchor="end" textLength="5.75" lengthAdjust="spacingAndGlyphs">5</text>
<text x="245.05" y="15.5" font-size="9.90" style="stroke-width:0.12px" textLength="23.6" lengthAdjust="spacingAndGlyphs">1e−8</text>
<text x="332.10" y="13.7" font-size="18.9" text-anchor="middle" textLength="35.20" lengthAdjust="spacingAndGlyphs">Pt II</text>
<path d="M454.65 17.90V264.10M498.30 17.90V264.10M541.95 17.90V264.10M585.60 17.90V264.10M629.25 17.90V264.10M454.65 252.75H629.25M454.65 207.67H629.25M454.65 162.59H629.25M454.65 117.51H629.25M454.65 72.43H629.25M454.65 27.35H629.25" stroke="#a4a4a4" stroke-width="0.9" fill="none"/>
<path d="M454.65 252.75H629.25" stroke="#000000" stroke-width="0.8" stroke-opacity="0.5" fill="none"/>
<path d="M475.50 252.75V250.70M477.50 252.75V249.20M478.50 252.75V247.30M480.50 252.75V245.90M482.50 252.75V251.30M488.50 252.75V247.30M490.50 252.75V246.80M491.50 252.75V248.80M493.50 252.75V235.80M494.50 252.75V241.00M495.50 252.75V247.90M496.50 252.75V247.70M498.50 252.75V249.90M500.50 252.75V250.70M503.50 252.75V250.40M505.50 252.75V251.00M513.50 252.75V251.80M524.50 252.75V251.10M527.50 252.75V244.20M530.50 252.75V250.00M533.50 252.75V216.80M534.50 252.75V242.90M535.50 252.75V246.40M537.50 252.75V247.30M539.50 252.75V237.40M540.50 252.75V247.70M542.50 252.75V246.10M545.50 252.75V244.20M548.50 252.75V246.10M550.50 252.75V239.00M552.50 252.75V247.70M555.50 252.75V237.40M557.50 252.75V224.00M560.50 252.75V243.20M562.50 252.75V224.00M564.50 252.75V246.90M566.50 252.75V247.30M567.50 252.75V247.30M569.50 252.75V250.30M571.50 252.75V250.30M572.50 252.75V244.70M574.50 252.75V245.10M577.50 252.75V250.30M580.50 252.75V250.70M594.50 252.75V251.40M605.50 252.75V249.50M585.50 252.75V251.85M590.50 252.75V252.05M609.50 252.75V252.05M612.50 252.75V252.05M615.50 252.75V252.15" stroke="#000000" stroke-width="1.25" fill="none"/>
<rect x="466.00" y="251.35" width="117.00" height="1.40" fill="#000000" fill-opacity="0.6"/>
<path d="M467.50 252.75V249.76M469.50 252.75V250.06M473.50 252.75V251.18M475.50 252.75V249.76M479.50 252.75V250.49M481.50 252.75V250.84M484.50 252.75V251.52M486.50 252.75V249.66M489.50 252.75V251.29M491.50 252.75V249.75M493.50 252.75V250.81M496.50 252.75V249.98M498.50 252.75V251.57M501.50 252.75V251.67M502.50 252.75V251.33M505.50 252.75V251.13M508.50 252.75V251.39M510.50 252.75V251.70M513.50 252.75V249.86M515.50 252.75V251.23M516.50 252.75V250.33M518.50 252.75V251.45M521.50 252.75V250.43M524.50 252.75V251.41M526.50 252.75V250.53M529.50 252.75V251.39M532.50 252.75V249.85M535.50 252.75V249.56M538.50 252.75V250.99M539.50 252.75V250.41M542.50 252.75V250.79M545.50 252.75V249.90M547.50 252.75V249.80M549.50 252.75V250.32M551.50 252.75V250.14M554.50 252.75V250.58M557.50 252.75V251.63M560.50 252.75V251.49M562.50 252.75V251.02M564.50 252.75V250.11M566.50 252.75V251.18M567.50 252.75V250.29M570.50 252.75V251.65M571.50 252.75V251.27M574.50 252.75V251.72M575.50 252.75V250.28M578.50 252.75V251.45M580.50 252.75V251.47" stroke="#000000" stroke-width="1" stroke-opacity="0.75" fill="none"/>
<path d="M475.40 252.75L475.40 251.72L477.10 251.72L477.10 252.75ZM477.10 252.75L477.10 250.97L478.70 250.97L478.70 252.75ZM478.70 252.75L478.70 250.03L480.10 250.03L480.10 252.75ZM480.10 252.75L480.10 252.03L482.10 252.03L482.10 252.75ZM488.80 252.75L488.80 250.03L490.50 250.03L490.50 252.75ZM490.50 252.75L490.50 250.78L491.90 250.78L491.90 252.75ZM491.90 252.75L491.90 250.78L493.30 250.78L493.30 252.75ZM493.30 252.75L493.30 246.88L494.40 246.88L494.40 252.75ZM494.40 252.75L494.40 250.32L495.50 250.32L495.50 252.75ZM495.50 252.75L495.50 250.32L496.80 250.32L496.80 252.75ZM496.80 252.75L496.80 251.32L498.60 251.32L498.60 252.75ZM498.60 252.75L498.60 251.72L500.50 251.72L500.50 252.75ZM500.50 252.75L500.50 251.72L503.30 251.72L503.30 252.75ZM503.30 252.75L503.30 251.88L505.00 251.88L505.00 252.75ZM524.50 252.75L524.50 251.93L527.60 251.93L527.60 252.75ZM527.60 252.75L527.60 251.38L530.80 251.38L530.80 252.75ZM530.80 252.75L530.80 251.38L533.20 251.38L533.20 252.75ZM533.20 252.75L533.20 247.82L534.30 247.82L534.30 252.75ZM534.30 252.75L534.30 249.57L535.90 249.57L535.90 252.75ZM535.90 252.75L535.90 250.03L537.10 250.03L537.10 252.75ZM537.10 252.75L537.10 250.03L539.00 250.03L539.00 252.75ZM539.00 252.75L539.00 250.22L540.30 250.22L540.30 252.75ZM540.30 252.75L540.30 250.22L542.60 250.22L542.60 252.75ZM542.60 252.75L542.60 249.43L545.30 249.43L545.30 252.75ZM548.50 252.75L548.50 249.43L550.10 249.43L550.10 252.75ZM550.10 252.75L550.10 250.22L552.60 250.22L552.60 252.75ZM552.60 252.75L552.60 250.22L555.30 250.22L555.30 252.75ZM555.30 252.75L555.30 245.07L557.30 245.07L557.30 252.75ZM560.80 252.75L560.80 247.97L562.90 247.97L562.90 252.75ZM562.90 252.75L562.90 249.82L564.80 249.82L564.80 252.75ZM564.80 252.75L564.80 250.03L566.30 250.03L566.30 252.75ZM566.30 252.75L566.30 250.03L567.10 250.03L567.10 252.75ZM567.10 252.75L567.10 251.53L569.70 251.53L569.70 252.75ZM569.70 252.75L569.70 251.53L571.10 251.53L571.10 252.75ZM571.10 252.75L571.10 251.53L572.80 251.53L572.80 252.75ZM572.80 252.75L572.80 248.93L574.50 248.93L574.50 252.75ZM577.80 252.75L577.80 251.72L580.60 251.72L580.60 252.75ZM609.80 252.75L609.80 252.40L612.50 252.40L612.50 252.75Z" fill="#000000" fill-opacity="0.70" stroke="none"/>
<path d="M454.65 207.67H629.25" stroke="#008000" stroke-width="0.8" stroke-opacity="0.5" fill="none"/>
<path d="M469.50 207.67V206.00M473.50 207.67V205.70M475.50 207.67V203.10M476.50 207.67V202.90M477.50 207.67V201.60M479.50 207.67V201.20M480.50 207.67V197.10M481.50 207.67V202.30M482.50 207.67V204.20M483.50 207.67V203.80M488.50 207.67V201.20M490.50 207.67V200.90M492.50 207.67V200.40M493.50 207.67V183.70M494.50 207.67V192.60M495.50 207.67V201.20M497.50 207.67V199.30M498.50 207.67V203.80M500.50 207.67V204.60M502.50 207.67V204.20M505.50 207.67V205.10M508.50 207.67V206.80M513.50 207.67V206.30M521.50 207.67V206.10M524.50 207.67V206.10M527.50 207.67V195.10M530.50 207.67V204.50M533.50 207.67V162.80M534.50 207.67V189.70M535.50 207.67V197.90M537.50 207.67V201.40M538.50 207.67V179.70M539.50 207.67V175.00M541.50 207.67V202.70M542.50 207.67V198.20M545.50 207.67V194.00M546.50 207.67V199.20M548.50 207.67V202.30M550.50 207.67V188.10M552.50 207.67V201.40M555.50 207.67V187.60M557.50 207.67V171.10M560.50 207.67V194.40M562.50 207.67V173.00M564.50 207.67V197.60M565.50 207.67V197.90M566.50 207.67V199.30M569.50 207.67V203.80M571.50 207.67V204.20M572.50 207.67V193.70M574.50 207.67V191.70M577.50 207.67V204.20M580.50 207.67V204.90M594.50 207.67V205.70M605.50 207.67V203.80M585.50 207.67V206.77M590.50 207.67V206.97M609.50 207.67V206.97M612.50 207.67V206.97M615.50 207.67V207.07" stroke="#008000" stroke-width="1.25" fill="none"/>
<rect x="466.00" y="206.27" width="117.00" height="1.40" fill="#008000" fill-opacity="0.6"/>
<path d="M467.50 207.67V206.31M469.50 207.67V205.27M472.50 207.67V206.19M475.50 207.67V204.89M477.50 207.67V205.56M479.50 207.67V206.66M482.50 207.67V205.38M483.50 207.67V204.92M485.50 207.67V206.16M487.50 207.67V204.48M490.50 207.67V204.74M493.50 207.67V206.60M495.50 207.67V205.58M496.50 207.67V204.58M499.50 207.67V206.33M502.50 207.67V206.40M505.50 207.67V205.67M508.50 207.67V205.92M510.50 207.67V206.26M512.50 207.67V204.77M514.50 207.67V204.95M516.50 207.67V204.54M519.50 207.67V205.01M522.50 207.67V205.39M525.50 207.67V206.40M527.50 207.67V204.85M529.50 207.67V204.64M533.50 207.67V205.77M535.50 207.67V205.68M537.50 207.67V204.48M539.50 207.67V206.61M541.50 207.67V205.09M545.50 207.67V205.58M547.50 207.67V205.46M550.50 207.67V206.18M553.50 207.67V205.45M556.50 207.67V206.27M557.50 207.67V205.90M561.50 207.67V205.91M563.50 207.67V206.00M565.50 207.67V206.53M568.50 207.67V204.96M570.50 207.67V205.17M573.50 207.67V204.69M577.50 207.67V205.77M580.50 207.67V204.55" stroke="#008000" stroke-width="1" stroke-opacity="0.75" fill="none"/>
<path d="M473.20 207.67L473.20 206.69L475.40 206.69L475.40 207.67ZM475.40 207.67L475.40 205.38L476.50 205.38L476.50 207.67ZM476.50 207.67L476.50 205.29L477.80 205.29L477.80 207.67ZM477.80 207.67L477.80 204.63L479.00 204.63L479.00 207.67ZM479.00 207.67L479.00 204.44L480.10 204.44L480.10 207.67ZM480.10 207.67L480.10 204.99L481.00 204.99L481.00 207.67ZM481.00 207.67L481.00 205.94L482.60 205.94L482.60 207.67ZM482.60 207.67L482.60 205.94L483.80 205.94L483.80 207.67ZM488.80 207.67L488.80 204.44L490.50 204.44L490.50 207.67ZM490.50 207.67L490.50 204.29L492.10 204.29L492.10 207.67ZM492.10 207.67L492.10 204.04L493.30 204.04L493.30 207.67ZM493.30 207.67L493.30 200.13L494.40 200.13L494.40 207.67ZM494.40 207.67L494.40 204.44L495.50 204.44L495.50 207.67ZM495.50 207.67L495.50 204.44L497.20 204.44L497.20 207.67ZM497.20 207.67L497.20 205.74L498.80 205.74L498.80 207.67ZM498.80 207.67L498.80 206.13L500.80 206.13L500.80 207.67ZM500.80 207.67L500.80 206.13L502.70 206.13L502.70 207.67ZM502.70 207.67L502.70 206.38L505.00 206.38L505.00 207.67ZM524.50 207.67L524.50 206.88L527.60 206.88L527.60 207.67ZM527.60 207.67L527.60 206.09L530.80 206.09L530.80 207.67ZM530.80 207.67L530.80 206.09L533.20 206.09L533.20 207.67ZM533.20 207.67L533.20 198.69L534.30 198.69L534.30 207.67ZM534.30 207.67L534.30 202.79L535.90 202.79L535.90 207.67ZM535.90 207.67L535.90 204.54L537.10 204.54L537.10 207.67ZM537.10 207.67L537.10 204.54L538.70 204.54L538.70 207.67ZM538.70 207.67L538.70 193.69L539.50 193.69L539.50 207.67ZM539.50 207.67L539.50 205.19L541.10 205.19L541.10 207.67ZM541.10 207.67L541.10 205.19L542.60 205.19L542.60 207.67ZM542.60 207.67L542.60 202.94L545.00 202.94L545.00 207.67ZM545.00 207.67L545.00 203.44L546.60 203.44L546.60 207.67ZM546.60 207.67L546.60 204.99L548.50 204.99L548.50 207.67ZM548.50 207.67L548.50 204.99L550.10 204.99L550.10 207.67ZM550.10 207.67L550.10 204.54L552.60 204.54L552.60 207.67ZM552.60 207.67L552.60 204.54L555.30 204.54L555.30 207.67ZM555.30 207.67L555.30 197.63L557.30 197.63L557.30 207.67ZM560.80 207.67L560.80 201.04L562.90 201.04L562.90 207.67ZM562.90 207.67L562.90 202.63L564.80 202.63L564.80 207.67ZM564.80 207.67L564.80 202.79L565.60 202.79L565.60 207.67ZM565.60 207.67L565.60 203.49L566.80 203.49L566.80 207.67ZM566.80 207.67L566.80 205.74L569.70 205.74L569.70 207.67ZM569.70 207.67L569.70 205.94L571.10 205.94L571.10 207.67ZM571.10 207.67L571.10 205.94L572.80 205.94L572.80 207.67ZM572.80 207.67L572.80 200.69L574.50 200.69L574.50 207.67ZM577.80 207.67L577.80 206.29L580.60 206.29L580.60 207.67ZM609.80 207.67L609.80 207.32L612.50 207.32L612.50 207.67ZM612.50 207.67L612.50 207.37L615.30 207.37L615.30 207.67Z" fill="#008000" fill-opacity="0.70" stroke="none"/>
<path d="M454.65 162.59H629.25" stroke="#ffa500" stroke-width="0.8" stroke-opacity="0.5" fill="none"/>
<path d="M475.50 162.59V160.70M477.50 162.59V159.20M478.50 162.59V157.70M480.50 162.59V156.60M482.50 162.59V161.30M488.50 162.59V157.30M490.50 162.59V155.40M491.50 162.59V159.20M493.50 162.59V148.10M494.50 162.59V151.80M495.50 162.59V157.90M496.50 162.59V159.20M498.50 162.59V161.00M503.50 162.59V161.80M524.50 162.59V161.10M527.50 162.59V156.90M530.50 162.59V161.50M533.50 162.59V134.30M534.50 162.59V155.80M535.50 162.59V158.00M538.50 162.59V153.20M539.50 162.59V154.50M542.50 162.59V158.00M545.50 162.59V156.40M548.50 162.59V158.40M550.50 162.59V153.70M552.50 162.59V158.40M555.50 162.59V152.60M557.50 162.59V142.20M560.50 162.59V157.30M562.50 162.59V141.50M564.50 162.59V158.00M566.50 162.59V159.20M567.50 162.59V158.90M570.50 162.59V161.20M572.50 162.59V157.30M574.50 162.59V158.40M577.50 162.59V161.20M580.50 162.59V161.20M605.50 162.59V160.30M585.50 162.59V161.69M590.50 162.59V161.89M609.50 162.59V161.89M612.50 162.59V161.89M615.50 162.59V161.99" stroke="#ffa500" stroke-width="1.25" fill="none"/>
<rect x="466.00" y="161.19" width="117.00" height="1.40" fill="#ffa500" fill-opacity="0.6"/>
<path d="M467.50 162.59V159.48M468.50 162.59V161.54M472.50 162.59V161.18M474.50 162.59V160.16M476.50 162.59V159.63M478.50 162.59V159.48M480.50 162.59V160.27M483.50 162.59V160.08M487.50 162.59V160.03M488.50 162.59V159.65M491.50 162.59V160.91M493.50 162.59V159.72M495.50 162.59V159.53M498.50 162.59V159.48M501.50 162.59V160.05M504.50 162.59V161.02M507.50 162.59V160.90M510.50 162.59V159.49M513.50 162.59V161.28M516.50 162.59V160.12M518.50 162.59V161.48M521.50 162.59V161.52M524.50 162.59V160.48M526.50 162.59V160.69M529.50 162.59V159.57M531.50 162.59V160.77M534.50 162.59V160.94M537.50 162.59V160.40M539.50 162.59V160.11M542.50 162.59V161.40M545.50 162.59V160.81M548.50 162.59V160.70M551.50 162.59V159.50M553.50 162.59V160.71M555.50 162.59V159.62M557.50 162.59V160.39M559.50 162.59V160.87M561.50 162.59V161.17M563.50 162.59V160.41M566.50 162.59V160.17M568.50 162.59V160.06M570.50 162.59V160.69M573.50 162.59V159.56M575.50 162.59V159.73M578.50 162.59V160.44M580.50 162.59V159.41" stroke="#ffa500" stroke-width="1" stroke-opacity="0.75" fill="none"/>
<path d="M475.40 162.59L475.40 161.64L477.10 161.64L477.10 162.59ZM477.10 162.59L477.10 160.89L478.70 160.89L478.70 162.59ZM478.70 162.59L478.70 160.14L480.10 160.14L480.10 162.59ZM480.10 162.59L480.10 161.94L482.10 161.94L482.10 162.59ZM488.80 162.59L488.80 159.94L490.10 159.94L490.10 162.59ZM490.10 162.59L490.10 160.89L491.60 160.89L491.60 162.59ZM491.60 162.59L491.60 160.89L493.30 160.89L493.30 162.59ZM493.30 162.59L493.30 157.19L494.40 157.19L494.40 162.59ZM494.40 162.59L494.40 160.25L495.50 160.25L495.50 162.59ZM495.50 162.59L495.50 160.89L496.60 160.89L496.60 162.59ZM496.60 162.59L496.60 161.80L498.80 161.80L498.80 162.59ZM524.50 162.59L524.50 161.84L527.60 161.84L527.60 162.59ZM527.60 162.59L527.60 162.05L530.80 162.05L530.80 162.59ZM530.80 162.59L530.80 162.05L533.20 162.05L533.20 162.59ZM533.20 162.59L533.20 159.19L534.30 159.19L534.30 162.59ZM534.30 162.59L534.30 160.30L535.90 160.30L535.90 162.59ZM535.90 162.59L535.90 160.30L538.40 160.30L538.40 162.59ZM538.40 162.59L538.40 158.55L539.50 158.55L539.50 162.59ZM539.50 162.59L539.50 160.30L542.60 160.30L542.60 162.59ZM542.60 162.59L542.60 160.30L545.30 160.30L545.30 162.59ZM548.50 162.59L548.50 160.50L550.10 160.50L550.10 162.59ZM550.10 162.59L550.10 160.50L552.60 160.50L552.60 162.59ZM552.60 162.59L552.60 160.50L555.30 160.50L555.30 162.59ZM555.30 162.59L555.30 157.59L557.30 157.59L557.30 162.59ZM560.80 162.59L560.80 159.94L562.90 159.94L562.90 162.59ZM562.90 162.59L562.90 160.30L564.80 160.30L564.80 162.59ZM564.80 162.59L564.80 160.89L566.30 160.89L566.30 162.59ZM566.30 162.59L566.30 160.89L567.10 160.89L567.10 162.59ZM567.10 162.59L567.10 161.89L570.00 161.89L570.00 162.59ZM570.00 162.59L570.00 161.89L572.80 161.89L572.80 162.59ZM572.80 162.59L572.80 160.50L574.50 160.50L574.50 162.59ZM577.80 162.59L577.80 161.89L580.60 161.89L580.60 162.59ZM609.80 162.59L609.80 162.24L612.50 162.24L612.50 162.59Z" fill="#ffa500" fill-opacity="0.70" stroke="none"/>
<path d="M454.65 117.51H629.25" stroke="#0000ff" stroke-width="0.8" stroke-opacity="0.5" fill="none"/>
<path d="M474.50 117.51V116.30M476.50 117.51V114.20M477.50 117.51V112.90M479.50 117.51V111.80M480.50 117.51V111.20M482.50 117.51V115.70M488.50 117.51V111.20M490.50 117.51V110.40M491.50 117.51V112.30M493.50 117.51V97.00M494.50 117.51V103.40M495.50 117.51V112.30M496.50 117.51V111.20M498.50 117.51V114.20M500.50 117.51V114.90M502.50 117.51V115.10M505.50 117.51V115.10M513.50 117.51V116.50M524.50 117.51V116.10M527.50 117.51V107.10M530.50 117.51V115.00M533.50 117.51V72.40M534.50 117.51V106.00M535.50 117.51V110.30M537.50 117.51V112.70M539.50 117.51V98.80M540.50 117.51V112.70M542.50 117.51V109.50M544.50 117.51V111.40M545.50 117.51V107.10M548.50 117.51V110.30M550.50 117.51V101.30M552.50 117.51V111.40M555.50 117.51V99.20M557.50 117.51V84.20M560.50 117.51V107.10M562.50 117.51V83.90M564.50 117.51V110.80M566.50 117.51V111.20M567.50 117.51V110.80M569.50 117.51V114.90M571.50 117.51V114.90M572.50 117.51V108.20M574.50 117.51V108.40M577.50 117.51V114.90M580.50 117.51V114.90M594.50 117.51V116.20M605.50 117.51V114.20M585.50 117.51V116.61M590.50 117.51V116.81M609.50 117.51V116.81M612.50 117.51V116.81M615.50 117.51V116.91" stroke="#0000ff" stroke-width="1.25" fill="none"/>
<rect x="466.00" y="116.11" width="117.00" height="1.40" fill="#0000ff" fill-opacity="0.6"/>
<path d="M467.50 117.51V114.48M470.50 117.51V114.55M472.50 117.51V115.21M474.50 117.51V115.34M476.50 117.51V116.09M478.50 117.51V116.02M480.50 117.51V116.46M482.50 117.51V114.95M484.50 117.51V115.38M487.50 117.51V115.72M489.50 117.51V114.79M492.50 117.51V115.06M494.50 117.51V114.37M497.50 117.51V114.84M499.50 117.51V115.25M502.50 117.51V115.82M503.50 117.51V115.47M506.50 117.51V115.21M509.50 117.51V115.10M511.50 117.51V116.12M513.50 117.51V114.72M515.50 117.51V116.26M516.50 117.51V116.42M518.50 117.51V115.25M522.50 117.51V115.78M524.50 117.51V115.88M526.50 117.51V114.80M529.50 117.51V115.94M530.50 117.51V114.79M533.50 117.51V114.69M535.50 117.51V115.31M538.50 117.51V115.21M542.50 117.51V116.14M545.50 117.51V116.39M548.50 117.51V116.46M551.50 117.51V115.00M554.50 117.51V114.74M558.50 117.51V115.33M561.50 117.51V114.86M563.50 117.51V114.37M566.50 117.51V116.08M567.50 117.51V115.48M569.50 117.51V114.46M572.50 117.51V116.03M574.50 117.51V115.35M576.50 117.51V115.31M579.50 117.51V115.95M581.50 117.51V114.53" stroke="#0000ff" stroke-width="1" stroke-opacity="0.75" fill="none"/>
<path d="M474.30 117.51L474.30 116.91L476.00 116.91L476.00 117.51ZM476.00 117.51L476.00 115.85L477.60 115.85L477.60 117.51ZM477.60 117.51L477.60 115.20L479.00 115.20L479.00 117.51ZM479.00 117.51L479.00 114.66L480.40 114.66L480.40 117.51ZM480.40 117.51L480.40 116.60L482.10 116.60L482.10 117.51ZM488.80 117.51L488.80 114.35L490.50 114.35L490.50 117.51ZM490.50 117.51L490.50 114.91L491.90 114.91L491.90 117.51ZM491.90 117.51L491.90 114.91L493.30 114.91L493.30 117.51ZM493.30 117.51L493.30 110.45L494.40 110.45L494.40 117.51ZM494.40 117.51L494.40 114.91L495.50 114.91L495.50 117.51ZM495.50 117.51L495.50 114.91L496.80 114.91L496.80 117.51ZM496.80 117.51L496.80 115.85L498.60 115.85L498.60 117.51ZM498.60 117.51L498.60 116.20L500.50 116.20L500.50 117.51ZM500.50 117.51L500.50 116.30L502.70 116.30L502.70 117.51ZM502.70 117.51L502.70 116.30L505.00 116.30L505.00 117.51ZM524.50 117.51L524.50 116.80L527.60 116.80L527.60 117.51ZM527.60 117.51L527.60 116.25L530.80 116.25L530.80 117.51ZM530.80 117.51L530.80 116.25L533.20 116.25L533.20 117.51ZM533.20 117.51L533.20 111.75L534.30 111.75L534.30 117.51ZM534.30 117.51L534.30 113.91L535.90 113.91L535.90 117.51ZM535.90 117.51L535.90 115.10L537.10 115.10L537.10 117.51ZM537.10 117.51L537.10 115.10L539.00 115.10L539.00 117.51ZM539.00 117.51L539.00 115.10L540.30 115.10L540.30 117.51ZM540.30 117.51L540.30 115.10L542.60 115.10L542.60 117.51ZM542.60 117.51L542.60 114.45L544.20 114.45L544.20 117.51ZM544.20 117.51L544.20 114.45L545.80 114.45L545.80 117.51ZM545.80 117.51L545.80 113.91L548.50 113.91L548.50 117.51ZM548.50 117.51L548.50 113.91L550.10 113.91L550.10 117.51ZM550.10 117.51L550.10 114.45L552.60 114.45L552.60 117.51ZM552.60 117.51L552.60 114.45L555.30 114.45L555.30 117.51ZM555.30 117.51L555.30 108.35L557.30 108.35L557.30 117.51ZM560.80 117.51L560.80 112.30L562.90 112.30L562.90 117.51ZM562.90 117.51L562.90 114.16L564.80 114.16L564.80 117.51ZM564.80 117.51L564.80 114.35L566.30 114.35L566.30 117.51ZM566.30 117.51L566.30 114.35L567.10 114.35L567.10 117.51ZM567.10 117.51L567.10 116.20L569.50 116.20L569.50 117.51ZM569.50 117.51L569.50 116.20L571.10 116.20L571.10 117.51ZM571.10 117.51L571.10 116.20L572.80 116.20L572.80 117.51ZM572.80 117.51L572.80 112.95L574.50 112.95L574.50 117.51ZM577.80 117.51L577.80 116.20L580.60 116.20L580.60 117.51ZM609.80 117.51L609.80 117.16L612.50 117.16L612.50 117.51Z" fill="#0000ff" fill-opacity="0.70" stroke="none"/>
<path d="M454.65 72.43H629.25" stroke="#ff0000" stroke-width="0.8" stroke-opacity="0.5" fill="none"/>
<path d="M466.50 72.43V71.50M468.50 72.43V71.50M469.50 72.43V71.50M472.50 72.43V70.70M474.50 72.43V69.20M475.50 72.43V66.60M476.50 72.43V65.90M477.50 72.43V62.30M478.50 72.43V61.80M479.50 72.43V60.60M480.50 72.43V65.70M482.50 72.43V69.20M483.50 72.43V68.50M484.50 72.43V70.70M488.50 72.43V65.40M489.50 72.43V65.10M491.50 72.43V65.90M492.50 72.43V64.30M493.50 72.43V48.40M494.50 72.43V56.70M495.50 72.43V65.10M497.50 72.43V63.40M498.50 72.43V68.50M500.50 72.43V69.60M502.50 72.43V69.60M503.50 72.43V69.20M505.50 72.43V70.10M508.50 72.43V71.80M513.50 72.43V71.50M519.50 72.43V70.80M522.50 72.43V70.80M524.50 72.43V70.80M527.50 72.43V61.00M530.50 72.43V69.20M533.50 72.43V29.40M534.50 72.43V54.20M535.50 72.43V62.90M537.50 72.43V66.40M538.50 72.43V45.50M539.50 72.43V40.50M541.50 72.43V66.40M543.50 72.43V63.20M545.50 72.43V59.40M546.50 72.43V63.70M547.50 72.43V67.70M550.50 72.43V54.20M552.50 72.43V65.80M555.50 72.43V51.10M557.50 72.43V38.90M560.50 72.43V60.50M562.50 72.43V37.30M564.50 72.43V63.70M566.50 72.43V63.60M567.50 72.43V64.00M569.50 72.43V69.20M571.50 72.43V69.20M572.50 72.43V60.10M574.50 72.43V58.40M577.50 72.43V69.20M579.50 72.43V70.10M581.50 72.43V70.10M585.50 72.43V71.80M590.50 72.43V71.80M594.50 72.43V71.00M605.50 72.43V69.20M609.50 72.43V72.10M612.50 72.43V72.10M615.50 72.43V72.10" stroke="#ff0000" stroke-width="1.25" fill="none"/>
<rect x="466.00" y="71.03" width="117.00" height="1.40" fill="#ff0000" fill-opacity="0.6"/>
<path d="M467.50 72.43V69.86M470.50 72.43V71.03M473.50 72.43V71.00M476.50 72.43V71.23M479.50 72.43V71.10M482.50 72.43V69.84M485.50 72.43V70.46M488.50 72.43V69.26M490.50 72.43V70.29M493.50 72.43V69.80M496.50 72.43V70.76M499.50 72.43V71.24M502.50 72.43V69.57M504.50 72.43V70.71M506.50 72.43V70.24M508.50 72.43V69.46M512.50 72.43V70.73M515.50 72.43V71.28M517.50 72.43V69.97M520.50 72.43V69.63M523.50 72.43V69.54M525.50 72.43V69.80M529.50 72.43V71.22M531.50 72.43V71.09M533.50 72.43V70.37M536.50 72.43V69.29M538.50 72.43V70.32M541.50 72.43V69.75M544.50 72.43V70.90M546.50 72.43V70.86M549.50 72.43V70.00M551.50 72.43V69.68M554.50 72.43V70.40M557.50 72.43V70.88M559.50 72.43V70.17M561.50 72.43V69.51M563.50 72.43V70.61M565.50 72.43V70.44M567.50 72.43V70.44M570.50 72.43V71.35M573.50 72.43V69.86M576.50 72.43V70.24M579.50 72.43V70.53M581.50 72.43V70.94" stroke="#ff0000" stroke-width="1" stroke-opacity="0.75" fill="none"/>
<path d="M466.50 72.43L466.50 71.97L468.00 71.97L468.00 72.43ZM468.00 72.43L468.00 71.97L469.80 71.97L469.80 72.43ZM469.80 72.43L469.80 71.97L472.60 71.97L472.60 72.43ZM472.60 72.43L472.60 71.56L474.30 71.56L474.30 72.43ZM474.30 72.43L474.30 70.81L475.40 70.81L475.40 72.43ZM475.40 72.43L475.40 69.52L476.50 69.52L476.50 72.43ZM476.50 72.43L476.50 69.17L477.60 69.17L477.60 72.43ZM477.60 72.43L477.60 67.37L478.70 67.37L478.70 72.43ZM478.70 72.43L478.70 67.12L479.90 67.12L479.90 72.43ZM479.90 72.43L479.90 69.06L480.80 69.06L480.80 72.43ZM480.80 72.43L480.80 70.81L482.10 70.81L482.10 72.43ZM482.10 72.43L482.10 70.81L483.20 70.81L483.20 72.43ZM483.20 72.43L483.20 71.56L484.90 71.56L484.90 72.43ZM488.60 72.43L488.60 68.92L489.90 68.92L489.90 72.43ZM489.90 72.43L489.90 69.17L491.20 69.17L491.20 72.43ZM491.20 72.43L491.20 69.17L492.40 69.17L492.40 72.43ZM492.40 72.43L492.40 68.37L493.30 68.37L493.30 72.43ZM493.30 72.43L493.30 64.56L494.40 64.56L494.40 72.43ZM494.40 72.43L494.40 68.77L495.50 68.77L495.50 72.43ZM495.50 72.43L495.50 68.77L497.20 68.77L497.20 72.43ZM497.20 72.43L497.20 70.47L498.80 70.47L498.80 72.43ZM498.80 72.43L498.80 71.02L500.50 71.02L500.50 72.43ZM500.50 72.43L500.50 71.02L502.20 71.02L502.20 72.43ZM502.20 72.43L502.20 71.02L503.90 71.02L503.90 72.43ZM503.90 72.43L503.90 71.27L505.30 71.27L505.30 72.43ZM519.70 72.43L519.70 71.62L522.00 71.62L522.00 72.43ZM522.00 72.43L522.00 71.62L524.50 71.62L524.50 72.43ZM524.50 72.43L524.50 71.62L527.60 71.62L527.60 72.43ZM527.60 72.43L527.60 70.81L530.80 70.81L530.80 72.43ZM530.80 72.43L530.80 70.81L533.20 70.81L533.20 72.43ZM533.20 72.43L533.20 63.32L534.30 63.32L534.30 72.43ZM534.30 72.43L534.30 67.67L535.50 67.67L535.50 72.43ZM535.50 72.43L535.50 69.42L537.10 69.42L537.10 72.43ZM537.10 72.43L537.10 69.42L538.70 69.42L538.70 72.43ZM538.70 72.43L538.70 58.97L539.50 58.97L539.50 72.43ZM539.50 72.43L539.50 69.42L541.10 69.42L541.10 72.43ZM541.10 72.43L541.10 69.42L543.10 69.42L543.10 72.43ZM543.10 72.43L543.10 67.81L545.00 67.81L545.00 72.43ZM545.00 72.43L545.00 68.06L546.30 68.06L546.30 72.43ZM546.30 72.43L546.30 70.06L547.90 70.06L547.90 72.43ZM547.90 72.43L547.90 70.06L550.50 70.06L550.50 72.43ZM550.50 72.43L550.50 69.12L552.60 69.12L552.60 72.43ZM552.60 72.43L552.60 69.12L555.30 69.12L555.30 72.43ZM555.30 72.43L555.30 61.77L557.30 61.77L557.30 72.43ZM560.80 72.43L560.80 66.47L562.90 66.47L562.90 72.43ZM562.90 72.43L562.90 68.06L564.80 68.06L564.80 72.43ZM564.80 72.43L564.80 68.06L566.10 68.06L566.10 72.43ZM566.10 72.43L566.10 68.22L567.20 68.22L567.20 72.43ZM567.20 72.43L567.20 70.81L569.60 70.81L569.60 72.43ZM569.60 72.43L569.60 70.81L571.10 70.81L571.10 72.43ZM571.10 72.43L571.10 70.81L572.80 70.81L572.80 72.43ZM572.80 72.43L572.80 66.27L574.50 66.27L574.50 72.43ZM577.80 72.43L577.80 71.27L579.50 71.27L579.50 72.43ZM579.50 72.43L579.50 71.27L581.20 71.27L581.20 72.43Z" fill="#ff0000" fill-opacity="0.70" stroke="none"/>
<path d="M454.65 264.10v2.6M498.30 264.10v2.6M541.95 264.10v2.6M585.60 264.10v2.6M629.25 264.10v2.6M454.65 264.10v1.3M463.38 264.10v1.3M472.11 264.10v1.3M480.84 264.10v1.3M489.57 264.10v1.3M498.30 264.10v1.3M507.03 264.10v1.3M515.76 264.10v1.3M524.49 264.10v1.3M533.22 264.10v1.3M541.95 264.10v1.3M550.68 264.10v1.3M559.41 264.10v1.3M568.14 264.10v1.3M576.87 264.10v1.3M585.60 264.10v1.3M594.33 264.10v1.3M603.06 264.10v1.3M611.79 264.10v1.3M620.52 264.10v1.3M629.25 264.10v1.3M454.65 234.72h-1.3M454.65 225.70h-1.3M454.65 216.69h-1.3M454.65 207.67h-1.3M454.65 198.65h-1.3M454.65 189.64h-1.3M454.65 180.62h-1.3M454.65 171.61h-1.3M454.65 162.59h-1.3M454.65 153.57h-1.3M454.65 144.56h-1.3M454.65 135.54h-1.3M454.65 126.53h-1.3M454.65 117.51h-1.3M454.65 108.49h-1.3M454.65 99.48h-1.3M454.65 90.46h-1.3M454.65 81.45h-1.3M454.65 72.43h-1.3M454.65 63.41h-1.3M454.65 54.40h-1.3M454.65 45.38h-1.3M454.65 36.37h-1.3M454.65 27.35h-1.3M454.65 18.33h-1.3M454.65 252.75h-2.6M454.65 207.67h-2.6M454.65 162.59h-2.6M454.65 117.51h-2.6M454.65 72.43h-2.6M454.65 27.35h-2.6" stroke="#111" stroke-width="1.0" fill="none"/>
<rect x="454.65" y="17.90" width="174.60" height="246.20" fill="none" stroke="#7d7d7d" stroke-width="1.1"/>
<text x="454.65" y="276.4" font-size="9.90" style="stroke-width:0.12px" text-anchor="middle" textLength="11.50" lengthAdjust="spacingAndGlyphs">50</text>
<text x="498.30" y="276.4" font-size="9.90" style="stroke-width:0.12px" text-anchor="middle" textLength="17.25" lengthAdjust="spacingAndGlyphs">100</text>
<text x="541.95" y="276.4" font-size="9.90" style="stroke-width:0.12px" text-anchor="middle" textLength="17.25" lengthAdjust="spacingAndGlyphs">150</text>
<text x="585.60" y="276.4" font-size="9.90" style="stroke-width:0.12px" text-anchor="middle" textLength="17.25" lengthAdjust="spacingAndGlyphs">200</text>
<text x="629.25" y="276.4" font-size="9.90" style="stroke-width:0.12px" text-anchor="middle" textLength="17.25" lengthAdjust="spacingAndGlyphs">250</text>
<text x="450.35" y="256.65" font-size="9.90" style="stroke-width:0.12px" text-anchor="end" textLength="14.40" lengthAdjust="spacingAndGlyphs">0.0</text>
<text x="450.35" y="211.57" font-size="9.90" style="stroke-width:0.12px" text-anchor="end" textLength="14.40" lengthAdjust="spacingAndGlyphs">0.5</text>
<text x="450.35" y="166.49" font-size="9.90" style="stroke-width:0.12px" text-anchor="end" textLength="14.40" lengthAdjust="spacingAndGlyphs">1.0</text>
<text x="450.35" y="121.41" font-size="9.90" style="stroke-width:0.12px" text-anchor="end" textLength="14.40" lengthAdjust="spacingAndGlyphs">1.5</text>
<text x="450.35" y="76.33" font-size="9.90" style="stroke-width:0.12px" text-anchor="end" textLength="14.40" lengthAdjust="spacingAndGlyphs">2.0</text>
<text x="450.35" y="31.25" font-size="9.90" style="stroke-width:0.12px" text-anchor="end" textLength="14.40" lengthAdjust="spacingAndGlyphs">2.5</text>
<text x="454.85" y="15.5" font-size="9.90" style="stroke-width:0.12px" textLength="23.6" lengthAdjust="spacingAndGlyphs">1e−8</text>
<text x="541.80" y="13.7" font-size="18.9" text-anchor="middle" textLength="40.90" lengthAdjust="spacingAndGlyphs">Pt III</text>
<text x="332.7" y="295.1" font-size="19" text-anchor="middle" textLength="159.6" lengthAdjust="spacingAndGlyphs">Wavelength (nm)</text>
<g transform="translate(17.2,274.3) rotate(-90)">
<text x="-0.40" y="0.00" font-size="19.30" textLength="18.40" lengthAdjust="spacingAndGlyphs">W</text>
<text x="17.40" y="0.00" font-size="19.30" textLength="70.60" lengthAdjust="spacingAndGlyphs">eighted</text>
<text x="92.60" y="0.00" font-size="19.30" textLength="36.50" lengthAdjust="spacingAndGlyphs">PEC</text>
<text x="131.90" y="0.00" font-size="19.30" textLength="40.20" lengthAdjust="spacingAndGlyphs">(ph.</text>
<text x="176.60" y="0.00" font-size="19.30" textLength="29.50" lengthAdjust="spacingAndGlyphs">cm</text>
<text x="206.60" y="-7.60" font-size="13.40" textLength="19.50" lengthAdjust="spacingAndGlyphs">−3</text>
<text x="230.50" y="0.00" font-size="19.30" textLength="10.00" lengthAdjust="spacingAndGlyphs">s</text>
<text x="241.00" y="-7.60" font-size="13.40" textLength="18.60" lengthAdjust="spacingAndGlyphs">−1</text>
<text x="260.60" y="0.00" font-size="19.30" textLength="6.20" lengthAdjust="spacingAndGlyphs">)</text>
</g>
<path d="M58.10 316.6H84.70" stroke="#000000" stroke-width="1.4"/>
<text x="95.80" y="321.4" font-size="13.3" textLength="21.3" lengthAdjust="spacingAndGlyphs">RM</text>
<path d="M142.70 316.6H169.30" stroke="#008000" stroke-width="1.4"/>
<text x="180.20" y="321.4" font-size="13.3" textLength="104.20" lengthAdjust="spacingAndGlyphs">RM (F=Axelrod)</text>
<path d="M311.30 316.6H337.80" stroke="#ffa500" stroke-width="1.4"/>
<text x="349.00" y="321.4" font-size="13.3" textLength="61.50" lengthAdjust="spacingAndGlyphs">RM (F=0)</text>
<path d="M437.60 316.6H464.00" stroke="#0000ff" stroke-width="1.4"/>
<text x="475.20" y="321.4" font-size="13.3" textLength="22.60" lengthAdjust="spacingAndGlyphs">DW</text>
<path d="M525.00 316.6H551.40" stroke="#ff0000" stroke-width="1.4"/>
<text x="561.90" y="321.4" font-size="13.3" textLength="26.90" lengthAdjust="spacingAndGlyphs">VRA</text>
</svg></body></html>
